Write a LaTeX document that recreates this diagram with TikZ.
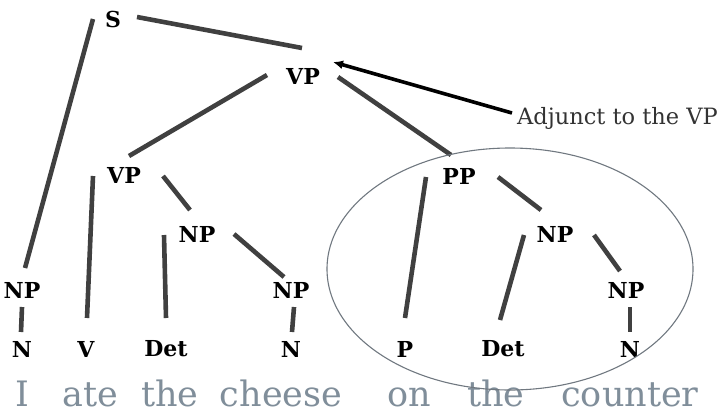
\documentclass[tikz,border=0pt]{standalone}
\usepackage{fontspec}
\setmainfont{DejaVu Serif}
\usetikzlibrary{arrows.meta}
\definecolor{branchgray}{RGB}{64,64,64}
\definecolor{wordgray}{RGB}{128,142,154}
\definecolor{ringgray}{RGB}{112,120,128}
\tikzset{
    cat/.style={
        font=\fontsize{22}{26}\selectfont\bfseries, inner sep=0pt
    }
}

\begin{document}
\begin{tikzpicture}[x=1pt,y=-1pt, line cap=butt, line join=round]

\tikzset{
  branch/.style={draw=branchgray, line width=4.6pt},
  pointer/.style={draw=black, line width=3.6pt, -{Latex[length=10pt,width=9pt]}},
  ring/.style={draw=ringgray, line width=1.1pt},
  word/.style={font=\fontsize{35}{40}\selectfont, text=wordgray, anchor=base, inner sep=0pt},
  note/.style={font=\fontsize{22.5}{27}\selectfont, text=black!80, anchor=west, inner sep=0pt},
}

\useasboundingbox (0,0) rectangle (726,416);

% categories
\node[cat] (S) at (113,19) {S};
\node[cat] (vpT) at (303,76) {VP};
\node[cat] (vpL) at (124,175) {VP};
\node[cat] (pp) at (459,176) {PP};
\node[cat] (npM) at (197,234) {NP};
\node[cat] (npR) at (555,234) {NP};
\node[cat] (npA) at (22,290) {NP};
\node[cat] (npB) at (291,290) {NP};
\node[cat] (npC) at (626,290) {NP};
\node[cat] (nA) at (22,349) {N};
\node[cat] (v) at (86,349) {V};
\node[cat] (detA) at (166,349) {Det};
\node[cat] (nB) at (291,349) {N};
\node[cat] (p) at (405,349) {P};
\node[cat] (detB) at (503,349) {Det};
\node[cat] (nC) at (630,349) {N};

% sentence
\node[word] (w1) at (22,406) {I};
\node[word] (w2) at (90,406) {ate};
\node[word] (w3) at (170,406) {the};
\node[word] (w4) at (281,406) {cheese};
\node[word] (w5) at (409,406) {on};
\node[word] (w6) at (496,406) {the};
\node[word] (w7) at (630,406) {counter};

% upper branches
\draw[branch] ([shift={(-20,0)}]S.center) -- ([shift={(3,-22)}]npA.center);
\draw[branch] ([shift={(24,-2)}]S.center) -- ([shift={(-1,-28)}]vpT.center);
\draw[branch] ([shift={(-36,-1)}]vpT.center) -- ([shift={(5,-19)}]vpL.center);
\draw[branch] ([shift={(35,1)}]vpT.center) -- ([shift={(-8,-21)}]pp.center);

% lower VP
\draw[branch] ([shift={(-31,1)}]vpL.center) -- ([shift={(1,-31)}]v.center);
\draw[branch] ([shift={(39,1)}]vpL.center) -- ([shift={(-7,-24)}]npM.center);
\draw[branch] ([shift={(-33,1)}]npM.center) -- ([shift={(0,-31)}]detA.center);
\draw[branch] ([shift={(37,0)}]npM.center) -- ([shift={(-7,-13)}]npB.center);
\draw[branch] ([shift={(3,17)}]npB.center) -- ([shift={(1,-17)}]nB.center);
\draw[branch] ([shift={(0,17)}]npA.center) -- ([shift={(-1,-17)}]nA.center);

% PP
\draw[branch] ([shift={(-33,1)}]pp.center) -- ([shift={(0,-31)}]p.center);
\draw[branch] ([shift={(39,1)}]pp.center) -- ([shift={(-14,-24)}]npR.center);
\draw[branch] ([shift={(-31,1)}]npR.center) -- ([shift={(-3,-29)}]detB.center);
\draw[branch] ([shift={(39,1)}]npR.center) -- ([shift={(-6,-19)}]npC.center);
\draw[branch] ([shift={(4,17)}]npC.center) -- ([shift={(0,-17)}]nC.center);

% adjunct circle
\draw[ring] (510,269) ellipse [x radius=183pt, y radius=121pt];

% note
\node[note] (adj) at (517,118) {Adjunct to the VP};
\draw[pointer] ([shift={(-5,-5)}]adj.west) -- ([shift={(30,-14)}]vpT.center);

\end{tikzpicture}
\end{document}
